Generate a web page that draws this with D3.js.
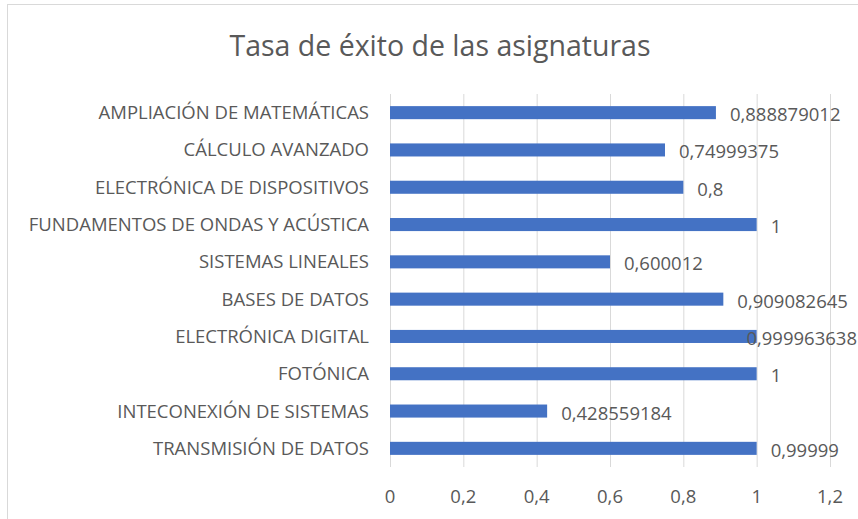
<!DOCTYPE html>
<html>
<head>
<meta charset="utf-8">
<script src="https://cdn.jsdelivr.net/npm/d3@7"></script>
<style>
    body { margin: 0; background: #ffffff; }
    .cat_label, .tick_label, .value_label { font-family: "Open Sans", "Noto Sans", sans-serif; fill: #595959; }
</style>
</head>
<body>
<div id="chart"></div>
<script>
// subjects, top to bottom as drawn
let subjects = [
    "AMPLIACIÓN DE MATEMÁTICAS",
    "CÁLCULO AVANZADO",
    "ELECTRÓNICA DE DISPOSITIVOS",
    "FUNDAMENTOS DE ONDAS Y ACÚSTICA",
    "SISTEMAS LINEALES",
    "BASES DE DATOS",
    "ELECTRÓNICA DIGITAL",
    "FOTÓNICA",
    "INTECONEXIÓN DE SISTEMAS",
    "TRANSMISIÓN DE DATOS"
];

// success rate per subject
let rates = [0.888879012, 0.74999375, 0.8, 1, 0.600012, 0.909082645, 0.999963638, 1, 0.428559184, 0.99999];

// x axis ticks
let xTicks = [0, 0.2, 0.4, 0.6, 0.8, 1, 1.2];

let width = 858, height = 519;
let plot = {left: 390, right: 830, top: 94, bottom: 467};
let fontSize = "18.5px";

// decimal comma like the original
let fmt = v => String(v).replace(".", ",");

let svg = d3.select("#chart")
    .append("svg")
    .attr("width", width)
    .attr("height", height);

// chart frame (only top and left edges visible in the crop)
svg.append("rect")
    .attr("x", 7.5)
    .attr("y", 4.5)
    .attr("width", 900)
    .attr("height", 600)
    .attr("fill", "none")
    .attr("stroke", "#d9d9d9");

// title
svg.append("text")
    .attr("x", 440)
    .attr("y", 56)
    .attr("text-anchor", "middle")
    .style("font-family", "'Open Sans', 'Noto Sans', sans-serif")
    .style("font-size", "28.5px")
    .style("fill", "#595959")
    .text("Tasa de éxito de las asignaturas");

let x = d3.scaleLinear()
    .domain([0, 1.2])
    .range([plot.left, plot.right]);

let y = d3.scaleBand()
    .domain(subjects)
    .range([plot.top, plot.bottom])
    .paddingInner(0.65)
    .paddingOuter(0.325);

// gridlines
svg.append("g")
    .selectAll("line")
    .data(xTicks)
    .join("line")
    .attr("x1", d => x(d) + 0.5)
    .attr("x2", d => x(d) + 0.5)
    .attr("y1", plot.top)
    .attr("y2", plot.bottom)
    .attr("stroke", "#d9d9d9")
    .attr("stroke-width", 1);

// tick labels
svg.append("g")
    .selectAll("text")
    .data(xTicks)
    .join("text")
    .classed("tick_label", true)
    .attr("x", d => x(d))
    .attr("y", 503)
    .attr("text-anchor", "middle")
    .style("font-size", fontSize)
    .text(d => fmt(d));

// bars
svg.append("g")
    .selectAll("rect")
    .data(rates)
    .join("rect")
    .attr("x", x(0))
    .attr("y", (d, i) => y(subjects[i]))
    .attr("width", d => x(d) - x(0))
    .attr("height", y.bandwidth())
    .attr("fill", "#4472c4");

// category labels
svg.append("g")
    .selectAll("text")
    .data(subjects)
    .join("text")
    .classed("cat_label", true)
    .attr("x", 369)
    .attr("y", d => y(d) + y.bandwidth() / 2)
    .attr("dy", "0.35em")
    .attr("text-anchor", "end")
    .style("font-size", fontSize)
    .text(d => d);

// value labels, pushed left when they would run off the right edge
svg.append("g")
    .selectAll("text")
    .data(rates)
    .join("text")
    .classed("value_label", true)
    .attr("y", (d, i) => y(subjects[i]) + y.bandwidth() / 2 + 2)
    .attr("dy", "0.35em")
    .style("font-size", fontSize)
    .text(d => fmt(d))
    .attr("x", function(d) {
        let w = this.getComputedTextLength();
        return Math.min(x(d) + 14, width - 1 - w);
    });
</script>
</body>
</html>
